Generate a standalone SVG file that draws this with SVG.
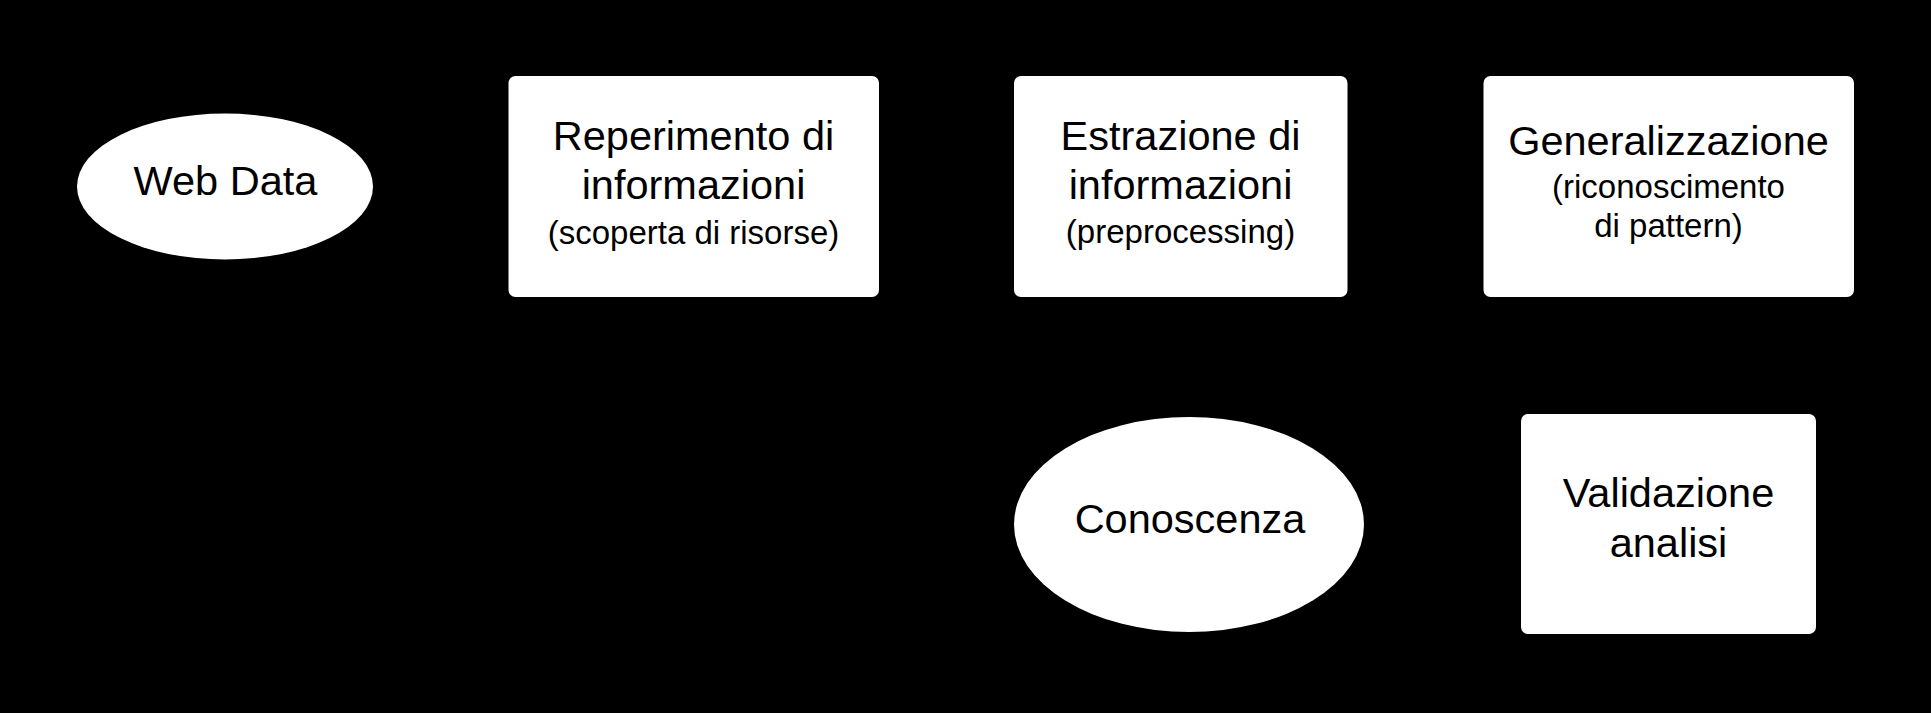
<svg xmlns="http://www.w3.org/2000/svg" width="1931" height="713" viewBox="0 0 1931 713">
  <style>
    .shape { fill: #ffffff; stroke: none; }
    .t { font-family: "Liberation Sans", Arial, sans-serif; fill: #000000; text-anchor: middle; }
    .main { font-size: 41.5px; }
    .sub { font-size: 33px; }
  </style>
  <rect x="0" y="0" width="1931" height="713" fill="#000000"/>
  <g id="connectors"/>
  <g id="web-data">
    <ellipse class="shape" cx="225" cy="186.5" rx="148" ry="73"/>
    <text class="t main" x="225.5" y="195">Web Data</text>
  </g>
  <g id="reperimento">
    <rect class="shape" x="508.5" y="76" width="370.5" height="221" rx="7"/>
    <text class="t main" x="693.5" y="150">Reperimento di</text>
    <text class="t main" x="693.5" y="199">informazioni</text>
    <text class="t sub" x="693.5" y="244">(scoperta di risorse)</text>
  </g>
  <g id="estrazione">
    <rect class="shape" x="1014" y="76" width="333.5" height="221" rx="7"/>
    <text class="t main" x="1180.5" y="150">Estrazione di</text>
    <text class="t main" x="1180.5" y="199">informazioni</text>
    <text class="t sub" x="1180.5" y="243">(preprocessing)</text>
  </g>
  <g id="generalizzazione">
    <rect class="shape" x="1483.5" y="76" width="370.5" height="221" rx="7"/>
    <text class="t main" x="1668.5" y="154.5">Generalizzazione</text>
    <text class="t sub" x="1668.5" y="198">(riconoscimento</text>
    <text class="t sub" x="1668.5" y="237">di pattern)</text>
  </g>
  <g id="validazione">
    <rect class="shape" x="1521" y="414" width="295" height="220" rx="7"/>
    <text class="t main" x="1668.5" y="507">Validazione</text>
    <text class="t main" x="1668.5" y="557">analisi</text>
  </g>
  <g id="conoscenza">
    <ellipse class="shape" cx="1189" cy="524.5" rx="175" ry="107.5"/>
    <text class="t main" x="1190" y="533">Conoscenza</text>
  </g>
</svg>
